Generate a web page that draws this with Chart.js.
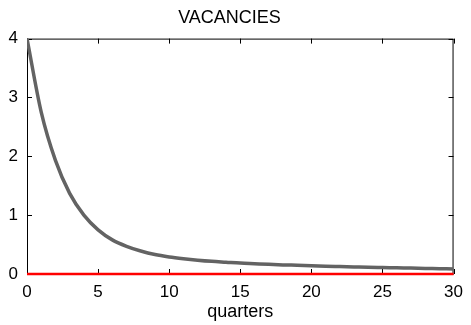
<!DOCTYPE html>
<html lang="en">
<head>
  <meta charset="UTF-8" />
  <title>Vacancies</title>
  <script src="https://cdn.jsdelivr.net/npm/chart.js"></script>
  <style>
    html, body { margin: 0; padding: 0; background: #fff; }
    #wrap { width: 471px; height: 325px; }
  </style>
</head>
<body>
  <div id="wrap"><canvas id="grafico" width="471" height="325"></canvas></div>

  <script>
    // dados
    const quarters = [0, 1, 2, 3, 4, 5, 6, 7, 8, 9, 10, 11, 12, 13, 14, 15, 16, 17, 18, 19, 20,
                      21, 22, 23, 24, 25, 26, 27, 28, 29, 30];
    const vacancies = [4.0, 2.75, 1.93, 1.37, 1.0, 0.75, 0.58, 0.47, 0.39, 0.33, 0.29, 0.26, 0.235,
                       0.215, 0.2, 0.185, 0.175, 0.165, 0.155, 0.148, 0.14, 0.133, 0.127, 0.121,
                       0.115, 0.11, 0.105, 0.1, 0.095, 0.09, 0.085];
    const steadyState = [0, 0];
    const steadyX = [0, 30];
    const xTicks = [0, 5, 10, 15, 20, 25, 30];
    const yTicks = [0, 1, 2, 3, 4];

    const fonte = "'Liberation Sans', Arial, sans-serif";

    // caixa com marcas para dentro, estilo matlab
    const caixa = {
      id: 'caixa',
      beforeDatasetsDraw(chart) {
        const { ctx, chartArea: a, scales } = chart;
        const len = 5;
        ctx.save();
        ctx.strokeStyle = '#000';
        ctx.lineWidth = 1;
        ctx.strokeRect(a.left + 0.5, a.top + 0.5, a.right - a.left - 1, a.bottom - a.top - 1);
        ctx.beginPath();
        xTicks.forEach(v => {
          const px = Math.round(scales.x.getPixelForValue(v)) + 0.5;
          ctx.moveTo(px, a.bottom); ctx.lineTo(px, a.bottom - len);
          ctx.moveTo(px, a.top); ctx.lineTo(px, a.top + len);
        });
        yTicks.forEach(v => {
          const py = Math.round(scales.y.getPixelForValue(v)) + 0.5;
          ctx.moveTo(a.left, py); ctx.lineTo(a.left + len, py);
          ctx.moveTo(a.right, py); ctx.lineTo(a.right - len, py);
        });
        ctx.stroke();
        ctx.restore();
      }
    };

    new Chart(document.getElementById('grafico'), {
      type: 'line',
      data: {
        datasets: [
          {
            data: steadyX.map((x, i) => ({ x, y: steadyState[i] })),
            borderColor: '#ff0000',
            borderWidth: 2.5,
            pointRadius: 0,
            clip: false,
            order: 0
          },
          {
            data: quarters.map((x, i) => ({ x, y: vacancies[i] })),
            borderColor: '#636363',
            borderWidth: 3.5,
            pointRadius: 0,
            cubicInterpolationMode: 'monotone',
            order: 1
          }
        ]
      },
      options: {
        responsive: false,
        animation: false,
        layout: { padding: { left: 0, right: 12, top: 0, bottom: 0 } },
        plugins: {
          legend: { display: false },
          tooltip: { enabled: false },
          title: {
            display: true,
            text: 'VACANCIES',
            color: '#000',
            font: { family: fonte, size: 18, weight: 'normal' },
            padding: { top: 7, bottom: 10 }
          }
        },
        scales: {
          x: {
            type: 'linear',
            min: 0, max: 30,
            grid: { display: false, drawTicks: false },
            border: { display: false },
            afterBuildTicks: s => { s.ticks = xTicks.map(v => ({ value: v })); },
            afterFit: s => { s.height = 51; },
            ticks: { color: '#000', padding: 8, maxRotation: 0, font: { family: fonte, size: 17 } },
            title: {
              display: true,
              text: 'quarters',
              color: '#000',
              font: { family: fonte, size: 18 },
              padding: { top: 0, bottom: 2 }
            }
          },
          y: {
            min: 0, max: 4,
            grid: { display: false, drawTicks: false },
            border: { display: false },
            afterBuildTicks: s => { s.ticks = yTicks.map(v => ({ value: v })); },
            afterFit: s => { s.width = 27; },
            ticks: { color: '#000', padding: 9, font: { family: fonte, size: 17 } }
          }
        }
      },
      plugins: [caixa]
    });
  </script>
</body>
</html>
